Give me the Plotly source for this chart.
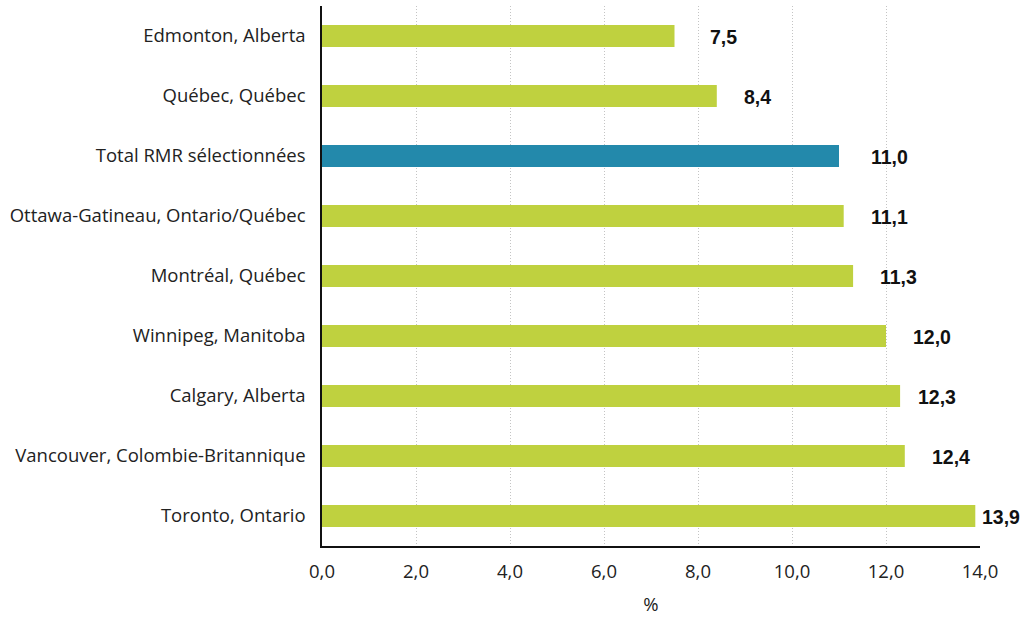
import plotly.graph_objects as go

# Regions (RMR), ordered top to bottom as displayed
categories = [
    "Edmonton, Alberta",
    "Québec, Québec",
    "Total RMR sélectionnées",
    "Ottawa-Gatineau, Ontario/Québec",
    "Montréal, Québec",
    "Winnipeg, Manitoba",
    "Calgary, Alberta",
    "Vancouver, Colombie-Britannique",
    "Toronto, Ontario",
]
values = [7.5, 8.4, 11.0, 11.1, 11.3, 12.0, 12.3, 12.4, 13.9]
tick_vals = [0, 2, 4, 6, 8, 10, 12, 14]
tick_text = ["0,0", "2,0", "4,0", "6,0", "8,0", "10,0", "12,0", "14,0"]

GREEN = "#BFD13F"
BLUE = "#2389AB"
colors = [BLUE if c.startswith("Total") else GREEN for c in categories]

# horizontal gap between bar end and its value label (px)
label_gap = [33, 25, 30, 25, 25, 25, 16, 25, 5]

fig = go.Figure(
    go.Bar(
        x=values,
        y=categories,
        orientation="h",
        marker=dict(color=colors, line=dict(width=0)),
        hoverinfo="x+y",
    )
)

for cat, val, gap in zip(categories, values, label_gap):
    fig.add_annotation(
        x=val,
        y=cat,
        text="<b>" + f"{val:.1f}".replace(".", ",") + "</b>",
        showarrow=False,
        xanchor="left",
        yanchor="middle",
        xshift=gap,
        yshift=-1,
        font=dict(family="Liberation Sans, Arial, sans-serif", size=19.5, color="#111111"),
    )

fig.update_layout(
    width=1025,
    height=620,
    margin=dict(l=322, r=45, t=6, b=74),
    paper_bgcolor="white",
    plot_bgcolor="white",
    bargap=0.63,
    showlegend=False,
    font=dict(family="Open Sans, sans-serif", size=18.5, color="#222222"),
)

fig.update_xaxes(
    range=[0, 14],
    tickvals=tick_vals,
    ticktext=tick_text,
    showgrid=True,
    gridcolor="#C4C4C4",
    griddash="1px,2px",
    gridwidth=1,
    showline=True,
    linecolor="#111111",
    linewidth=2,
    ticks="",
    ticklabelstandoff=8,
    zeroline=False,
    tickfont=dict(size=18.5, color="#222222"),
    title=dict(text="%", font=dict(size=18.5, color="#222222"), standoff=16),
)

fig.update_yaxes(
    categoryorder="array",
    categoryarray=categories[::-1],
    range=[-0.5, len(categories) - 0.5],
    showline=True,
    linecolor="#111111",
    linewidth=1.5,
    showgrid=False,
    ticks="",
    ticklabelstandoff=11,
    tickfont=dict(size=18.5, color="#222222"),
)

fig.write_html("out.html")
